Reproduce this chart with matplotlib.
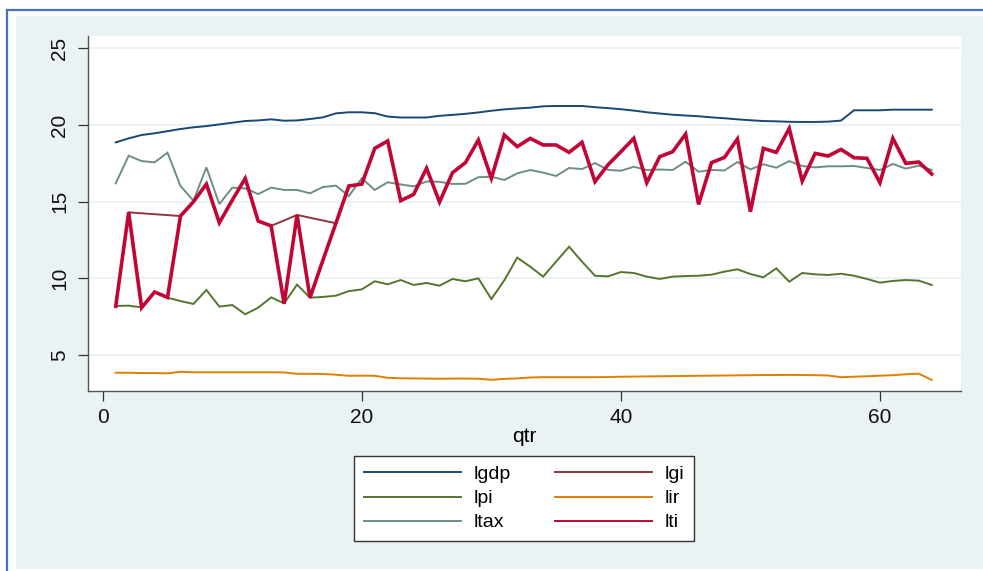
import numpy
import matplotlib
matplotlib.use('Agg')
from matplotlib import pyplot
from matplotlib.lines import Line2D
from matplotlib.patches import Rectangle


# 
# quarterly series (log levels)
# 
qtr = list(range(1, 65))

lgdp = [18.87, 19.13, 19.35, 19.46, 19.60, 19.74, 19.85, 19.93, 20.04, 20.15,
        20.26, 20.30, 20.37, 20.28, 20.30, 20.39, 20.50, 20.76, 20.83, 20.83,
        20.77, 20.55, 20.49, 20.49, 20.49, 20.60, 20.66, 20.73, 20.82, 20.93,
        21.02, 21.08, 21.13, 21.22, 21.24, 21.24, 21.24, 21.16, 21.10, 21.03,
        20.94, 20.83, 20.75, 20.67, 20.62, 20.57, 20.50, 20.44, 20.37, 20.31,
        20.26, 20.24, 20.21, 20.20, 20.20, 20.22, 20.29, 20.96, 20.96, 20.96,
        21.00, 21.00, 21.00, 21.00]

lti = [8.19, 14.31, 8.10, 9.12, 8.77, 14.07, 15.00, 16.15, 13.63, 15.11,
       16.52, 13.74, 13.43, 8.36, 14.14, 8.75, 11.20, 13.60, 16.03, 16.15,
       18.48, 18.96, 15.07, 15.48, 17.18, 14.98, 16.89, 17.55, 19.02, 16.53,
       19.35, 18.59, 19.13, 18.70, 18.70, 18.22, 18.87, 16.31, 17.40, 18.26,
       19.13, 16.24, 17.94, 18.26, 19.41, 14.83, 17.55, 17.89, 19.09, 14.35,
       18.48, 18.22, 19.78, 16.35, 18.15, 17.98, 18.41, 17.87, 17.83, 16.24,
       19.13, 17.50, 17.59, 16.81]

lgi = [8.19, 14.31, 14.25, 14.19, 14.13, 14.07, 15.00, 16.15, 13.63, 15.11,
       16.52, 13.74, 13.43, 13.78, 14.14, 13.96, 13.78, 13.60, 16.03, 16.15,
       18.48, 18.96, 15.07, 15.48, 17.18, 14.98, 16.89, 17.55, 19.02, 16.53,
       19.35, 18.59, 19.13, 18.70, 18.70, 18.22, 18.87, 16.31, 17.40, 18.26,
       19.13, 16.24, 17.94, 18.26, 19.41, 14.83, 17.55, 17.89, 19.09, 14.35,
       18.48, 18.22, 19.78, 16.35, 18.15, 17.98, 18.41, 17.87, 17.83, 16.24,
       19.13, 17.50, 17.59, 16.81]

lpi = [8.21, 8.23, 8.12, 9.12, 8.75, 8.53, 8.34, 9.25, 8.17, 8.27,
       7.67, 8.10, 8.77, 8.38, 9.60, 8.75, 8.80, 8.88, 9.18, 9.29,
       9.82, 9.62, 9.90, 9.58, 9.71, 9.53, 9.97, 9.82, 10.01, 8.66,
       9.88, 11.36, 10.77, 10.12, 11.10, 12.07, 11.10, 10.18, 10.14, 10.42,
       10.36, 10.12, 9.97, 10.12, 10.16, 10.18, 10.25, 10.45, 10.60, 10.29,
       10.08, 10.66, 9.79, 10.36, 10.27, 10.23, 10.31, 10.18, 9.97, 9.73,
       9.84, 9.90, 9.86, 9.58]

lir = [3.86, 3.86, 3.84, 3.84, 3.82, 3.92, 3.89, 3.89, 3.89, 3.89,
       3.89, 3.89, 3.89, 3.88, 3.79, 3.79, 3.78, 3.73, 3.66, 3.67,
       3.66, 3.53, 3.50, 3.49, 3.48, 3.47, 3.48, 3.48, 3.47, 3.40,
       3.46, 3.49, 3.55, 3.57, 3.57, 3.57, 3.57, 3.57, 3.58, 3.60,
       3.61, 3.62, 3.63, 3.64, 3.65, 3.66, 3.67, 3.68, 3.69, 3.70,
       3.71, 3.71, 3.72, 3.71, 3.70, 3.68, 3.57, 3.60, 3.63, 3.67,
       3.70, 3.76, 3.80, 3.39]

ltax = [16.20, 18.00, 17.65, 17.57, 18.20, 16.03, 15.07, 17.24, 14.85, 15.92,
        15.87, 15.50, 15.92, 15.77, 15.77, 15.55, 15.96, 16.05, 15.37, 16.53,
        15.77, 16.27, 16.13, 16.00, 16.32, 16.30, 16.16, 16.17, 16.60, 16.63,
        16.42, 16.85, 17.07, 16.90, 16.68, 17.20, 17.13, 17.52, 17.08, 17.02,
        17.28, 17.07, 17.10, 17.07, 17.61, 16.96, 17.07, 17.04, 17.59, 17.11,
        17.44, 17.22, 17.65, 17.33, 17.24, 17.31, 17.31, 17.33, 17.20, 17.07,
        17.46, 17.16, 17.35, 17.07]

xticks = [0, 20, 40, 60]
yticks = [5, 10, 15, 20, 25]


# 
# stata s2color style
# 
pyplot.rcParams['font.family'] = ['Liberation Sans', 'DejaVu Sans']
bg_color = '#EAF2F3'
series = [
    ('lgdp', lgdp, '#1A476F', 1.4),
    ('lgi',  lgi,  '#90353B', 1.4),
    ('lpi',  lpi,  '#55752F', 1.4),
    ('lir',  lir,  '#E37E00', 1.4),
    ('ltax', ltax, '#6E8E84', 1.4),
    ('lti',  lti,  '#C10534', 2.6),
]

fig = pyplot.figure(figsize=(9.83, 5.71), dpi=100)
fig.patch.set_facecolor('white')

# graph region + outer frame
fig.patches.append(Rectangle((16/983., 2/571.), (983-16)/983., (555-2)/571.,
                             transform=fig.transFigure, facecolor=bg_color, edgecolor='none', zorder=-10))
fig.lines.append(Line2D([7/983., 7/983.], [0, 1-9.5/571.], transform=fig.transFigure, color='#4472C4', lw=1.6, zorder=-5))
fig.lines.append(Line2D([7/983., 1.0], [1-9.5/571., 1-9.5/571.], transform=fig.transFigure, color='#4472C4', lw=1.6, zorder=-5))

ax = fig.add_axes([88/983., (571-391)/571., (961-88)/983., (391-36)/571.])
ax.set_facecolor('white')

for name, yy, cc, ww in series:
    ax.plot(qtr, yy, color=cc, lw=ww, label=name, solid_joinstyle='miter')

ax.set_xlim(-1.14, 66.26)
ax.set_ylim(2.67, 25.8)

# 
# axes, ticks, grid
# 
ax.set_xticks(xticks)
ax.set_yticks(yticks)
ax.set_yticklabels([str(t) for t in yticks], rotation=90, va='center')
ax.tick_params(axis='both', direction='out', length=7.5, width=0.9, color='#333333', labelsize=15, labelcolor='#111111')
ax.tick_params(axis='x', pad=5)
ax.tick_params(axis='y', pad=6)
ax.grid(axis='y', color=bg_color, lw=1.5, zorder=0)
ax.set_axisbelow(True)
for side in ['top', 'right']:
    ax.spines[side].set_visible(False)
for side in ['left', 'bottom']:
    ax.spines[side].set_color('#555555')
    ax.spines[side].set_linewidth(1.0)
ax.set_xlabel('qtr', fontsize=15, labelpad=0)

# 
# legend (thin keys, filled row by row)
# 
order = [0, 2, 4, 1, 3, 5]
handles = [Line2D([0], [0], color=series[i][2], lw=1.4) for i in order]
labels = [series[i][0] for i in order]
leg = fig.legend(handles, labels, ncol=2, loc='center',
                 bbox_to_anchor=(524/983., 1-498.5/571.), bbox_transform=fig.transFigure,
                 fontsize=14, frameon=True, fancybox=False, edgecolor='#333333',
                 facecolor='white', framealpha=1,
                 handlelength=5.0, handletextpad=0.65, columnspacing=2.25,
                 labelspacing=0.33, borderpad=0.5, borderaxespad=0)
leg.get_frame().set_linewidth(1.0)

pyplot.savefig('out.png', dpi=100, facecolor=fig.get_facecolor())
print('Output to "out.png"!')
